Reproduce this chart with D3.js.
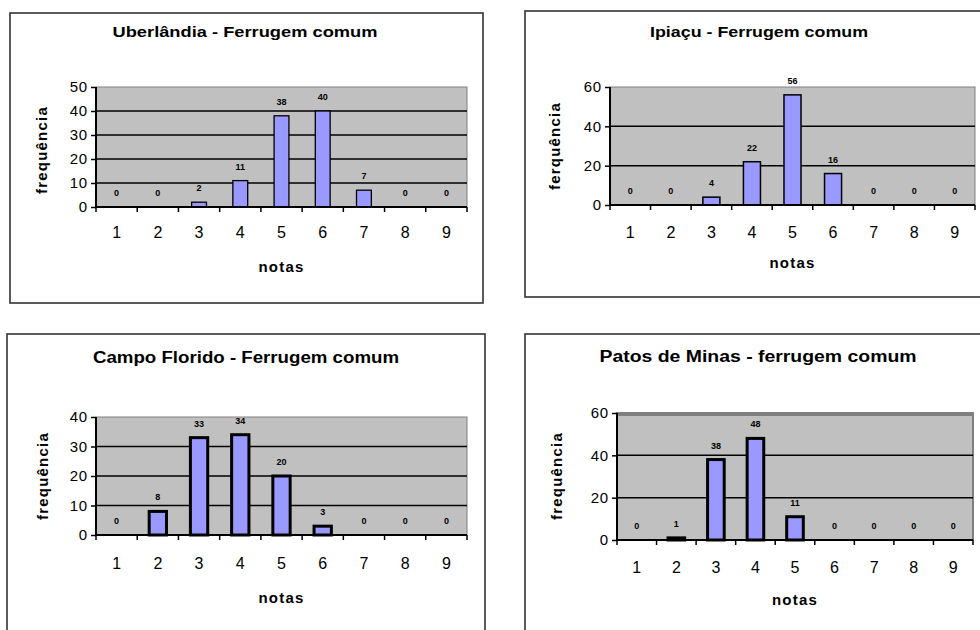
<!DOCTYPE html>
<html>
<head>
<meta charset="utf-8">
<script src="https://cdn.jsdelivr.net/npm/d3@7"></script>
<style>
  body { margin: 0; background: #fff; }
  svg { display: block; font-family: Arial, "Liberation Sans", sans-serif; }
</style>
</head>
<body>
<svg width="980" height="630"></svg>
<script>
(function () {

  // notas 1..9 on every chart
  var notas = ['1', '2', '3', '4', '5', '6', '7', '8', '9']

  var titles = [
    'Uberlândia - Ferrugem comum',
    'Ipiaçu - Ferrugem comum',
    'Campo Florido - Ferrugem comum',
    'Patos de Minas - ferrugem comum'
  ]

  // the Ipiaçu chart really says "ferquência"
  var yLabels = ['frequência', 'ferquência', 'frequência', 'frequência']

  var uberlandia = [0, 0, 2, 11, 38, 40, 7, 0, 0]
  var ipiacu = [0, 0, 4, 22, 56, 16, 0, 0, 0]
  var campoFlorido = [0, 8, 33, 34, 20, 3, 0, 0, 0]
  var patosDeMinas = [0, 1, 38, 48, 11, 0, 0, 0, 0]

  var yMax = [50, 60, 40, 60]
  var yTicks = [
    [0, 10, 20, 30, 40, 50],
    [0, 20, 40, 60],
    [0, 10, 20, 30, 40],
    [0, 20, 40, 60]
  ]

  var series = [uberlandia, ipiacu, campoFlorido, patosDeMinas]

  // layout of each panel (box, plot area, text positions)
  var panels = [
    { box: [10, 13, 483, 303], plot: [96, 87, 467, 207], titleX: 245, titleY: 37, titleW: 265, ylabX: 42, ylabY: 150, tickY: 238, notasY: 272, barW: 0.36, stroke: 1.3, titleSize: 15 },
    { box: [525, 11, 992, 297], plot: [610, 87, 975, 205], titleX: 759, titleY: 37, titleW: 218, ylabX: 555, ylabY: 146, tickY: 238, notasY: 268, barW: 0.42, stroke: 1.5, titleSize: 15 },
    { box: [7, 334, 485, 642], plot: [96, 417, 467, 535], titleX: 246, titleY: 363, titleW: 306, ylabX: 43, ylabY: 476, tickY: 569, notasY: 603, barW: 0.42, stroke: 3, titleSize: 16 },
    { box: [525, 334, 992, 642], plot: [617, 413, 973, 540], titleX: 758, titleY: 362, titleW: 317, ylabX: 557, ylabY: 476, tickY: 573, notasY: 605, barW: 0.42, stroke: 3, titleSize: 16 }
  ]

  var svg = d3.select('svg')

  panels.forEach(function (p, i) {
    var g = svg.append('g')
    var data = series[i].map(function (v, j) { return { nota: notas[j], v: v } })
    var l = p.plot[0], t = p.plot[1], r = p.plot[2], b = p.plot[3]

    var x = d3.scaleBand().domain(notas).range([l, r]).padding(0)
    var y = d3.scaleLinear().domain([0, yMax[i]]).range([b, t])

    // outer frame
    g.append('rect')
      .attr('x', p.box[0]).attr('y', p.box[1])
      .attr('width', p.box[2] - p.box[0]).attr('height', p.box[3] - p.box[1])
      .attr('fill', 'none').attr('stroke', '#333').attr('stroke-width', 1.6)

    // grey plot area
    g.append('rect')
      .attr('x', l).attr('y', t)
      .attr('width', r - l).attr('height', b - t)
      .attr('fill', '#c0c0c0')
      .attr('stroke', '#808080').attr('stroke-width', i == 3 ? 2 : 1)
    if (i == 3) {
      g.append('rect').attr('x', l).attr('y', t - 1).attr('width', r - l).attr('height', 4).attr('fill', '#808080')
    }

    // gridlines
    g.selectAll('.grid')
      .data(yTicks[i].filter(function (d) { return d > 0 && d < yMax[i] }))
      .enter().append('line')
      .attr('x1', l).attr('x2', r)
      .attr('y1', d => y(d)).attr('y2', d => y(d))
      .attr('stroke', '#000').attr('stroke-width', 1.5)

    // bars (zeros draw nothing)
    g.selectAll('rect.bar')
      .data(data.filter(d => d.v > 0))
      .enter().append('rect')
      .attr('class', 'bar')
      .attr('x', d => x(d.nota) + x.bandwidth() * (1 - p.barW) / 2)
      .attr('width', x.bandwidth() * p.barW)
      .attr('y', d => y(d.v))
      .attr('height', d => b - y(d.v))
      .attr('fill', '#9999ff')
      .attr('stroke', '#000')
      .attr('stroke-width', p.stroke)

    // value labels
    g.selectAll('text.val')
      .data(data)
      .enter().append('text')
      .attr('class', 'val')
      .attr('x', d => x(d.nota) + x.bandwidth() / 2)
      .attr('y', d => y(d.v) - 11)
      .attr('text-anchor', 'middle')
      .attr('font-size', 9)
      .attr('font-weight', 'bold')
      .text(d => d.v)

    // y axis
    var yAxis = g.append('g')
      .attr('transform', 'translate(' + l + ',0)')
      .call(d3.axisLeft(y).tickValues(yTicks[i]).tickSize(5).tickPadding(3))
    yAxis.select('.domain').attr('stroke', '#000').attr('stroke-width', 2).attr('d', 'M0,' + t + 'V' + b)
    yAxis.selectAll('.tick line').attr('stroke', '#000').attr('stroke-width', 1.5)
    yAxis.selectAll('.tick text').attr('font-size', 15).attr('fill', '#000').attr('letter-spacing', 0.8)

    // x axis: line plus ticks between the categories
    g.append('line')
      .attr('x1', l).attr('x2', r).attr('y1', b).attr('y2', b)
      .attr('stroke', '#000').attr('stroke-width', 2)
    g.selectAll('.xtick')
      .data(notas.map(d => x(d)).concat([r]))
      .enter().append('line')
      .attr('x1', d => d).attr('x2', d => d)
      .attr('y1', b).attr('y2', b + 5)
      .attr('stroke', '#000').attr('stroke-width', 1.5)
    g.selectAll('.xlab')
      .data(notas)
      .enter().append('text')
      .attr('x', d => x(d) + x.bandwidth() / 2)
      .attr('y', p.tickY)
      .attr('text-anchor', 'middle')
      .attr('font-size', 16)
      .text(d => d)

    // title, stretched to the width it has in the original
    g.append('text')
      .attr('x', p.titleX).attr('y', p.titleY)
      .attr('text-anchor', 'middle')
      .attr('font-size', p.titleSize).attr('font-weight', 'bold')
      .attr('textLength', p.titleW)
      .attr('lengthAdjust', 'spacingAndGlyphs')
      .text(titles[i])

    // axis titles
    g.append('text')
      .attr('x', (l + r) / 2).attr('y', p.notasY)
      .attr('text-anchor', 'middle')
      .attr('font-size', 15).attr('font-weight', 'bold')
      .attr('letter-spacing', 1.2)
      .text('notas')
    g.append('text')
      .attr('transform', 'translate(' + (p.ylabX + 5) + ',' + p.ylabY + ') rotate(-90)')
      .attr('text-anchor', 'middle')
      .attr('font-size', 15).attr('font-weight', 'bold')
      .attr('letter-spacing', 1.2)
      .text(yLabels[i])
  })

})()
</script>
</body>
</html>
